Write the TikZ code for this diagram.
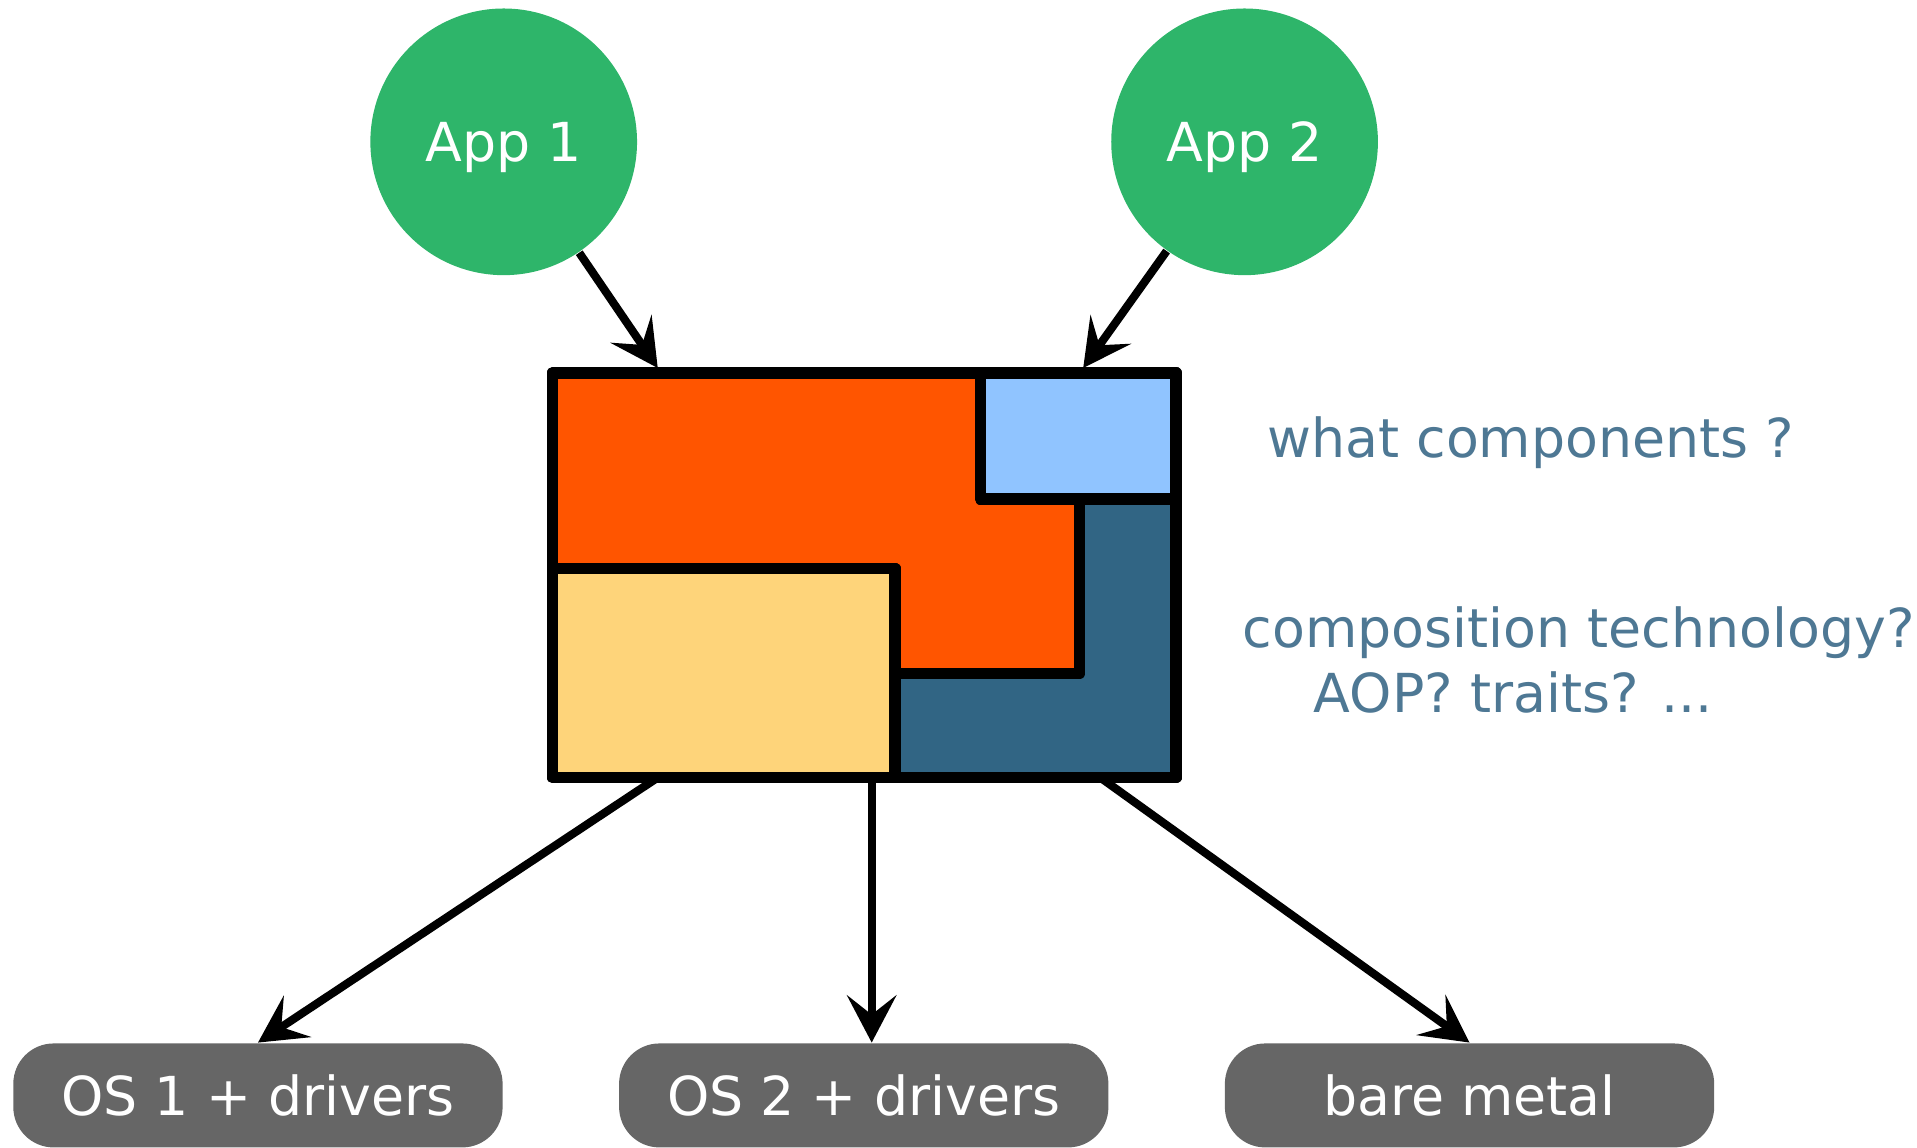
\documentclass[tikz,border=0pt]{standalone}
\usepackage{fontspec}
\setmainfont{DejaVu Sans}
\usetikzlibrary{arrows.meta}
\definecolor{appgreen}{RGB}{46,181,106}
\definecolor{partred}{RGB}{255,85,0}
\definecolor{partsky}{RGB}{144,196,255}
\definecolor{partnavy}{RGB}{49,101,132}
\definecolor{partsand}{RGB}{254,212,122}
\definecolor{osgray}{RGB}{102,102,102}
\definecolor{noteblue}{RGB}{78,120,148}
\begin{document}
\begin{tikzpicture}[
  x=0.01cm,y=-0.01cm,
  every node/.style={font=\fontsize{12.5}{14}\selectfont},
  app/.style={circle,fill=appgreen,minimum size=2.18cm,inner sep=0pt,text=white,text depth=0pt},
  target/.style={rounded corners=0.33cm,fill=osgray,minimum width=4cm,minimum height=0.85cm,text=white,text depth=0pt},
  note/.style={text=noteblue,anchor=base west,inner sep=0pt},
  part/.style={draw=black,line width=2.7pt,line join=round},
  link/.style={line width=1.9pt,-{Stealth[length=11pt,width=11.5pt,inset=4.5pt]}}
]
  \useasboundingbox (0,0) rectangle (1568,939);

  \node[app] (app1) at (412,116)  {App 1};
  \node[app] (app2) at (1018,116) {App 2};
  \node[target] (os1) at (211,896)    {OS 1 + drivers};
  \node[target] (os2) at (706.5,896)  {OS 2 + drivers};
  \node[target] (metal) at (1202,896) {bare metal};

  % the composed system
  \coordinate (in1)  at (538,301);
  \coordinate (in2)  at (886,301);
  \coordinate (out1) at (538,636);
  \coordinate (out2) at (713,636);
  \coordinate (out3) at (900,636);

  \draw[link] (app1) -- (in1);
  \draw[link] (app2) -- (in2);
  \draw[link] (out1) -- (os1.north);
  \draw[link] (out2) -- (out2 |- os2.north);
  \draw[link] (out3) -- (metal.north);

  \filldraw[part,fill=partred]  (452,305) -- (802,305) -- (802,408) -- (883,408) -- (883,551)
    -- (732,551) -- (732,465) -- (452,465) -- cycle;
  \filldraw[part,fill=partsky]  (802,305) rectangle (962,408);
  \filldraw[part,fill=partsand] (452,465) rectangle (732,636);
  \filldraw[part,fill=partnavy] (883,408) -- (962,408) -- (962,636) -- (732,636) -- (732,551)
    -- (883,551) -- cycle;
  \draw[part] (452,305) rectangle (962,636);

  \node[note] (what) at (1036,374) {what components ?};
  \node[note] (how)  at (1016,530) {composition technology?};
  \node[note] (ways) at (1074,583) {AOP? traits? ...};
\end{tikzpicture}
\end{document}
